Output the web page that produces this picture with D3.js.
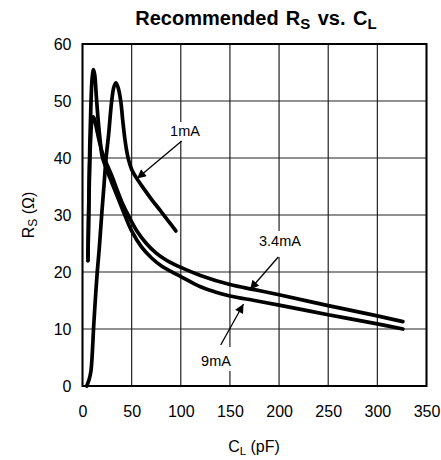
<!DOCTYPE html>
<html><head><meta charset="utf-8">
<script src="https://cdn.jsdelivr.net/npm/d3@7"></script>
<style>body{margin:0;background:#fff}svg{display:block}text{font-family:Arial,"Liberation Sans",sans-serif}</style>
</head><body>
<svg id="c" width="441" height="460"></svg>
<script>
const xTicks = [0, 50, 100, 150, 200, 250, 300, 350];
const yTicks = [0, 10, 20, 30, 40, 50, 60];

const curve1mA = [[4.3,0],[6.5,1],[8.5,2.5],[9.7,5],[10.5,7.5],[11.2,10],[13,15],[15,20],[17,24],[19.5,30],[22,35.5],[24,40],[26.5,44],[29.7,50],[32,52.5],[34.1,53.2],[36.3,52.3],[38.9,50],[41,46.5],[43,43.5],[45,41.2],[47,39.6],[50,38],[54.5,36.6],[60,35.2],[70,32.8],[80,30.6],[88,28.8],[95,27.2]];
const curve3_4mA = [[5.5,22],[6.3,30],[7.2,38],[8.3,43.5],[9.6,46.5],[11,47.2],[12.5,46.6],[14.5,45],[17,43],[20,41],[23,39.6],[30,36.8],[35,34.5],[40,32.3],[47,29.8],[55,27.3],[65,25],[75,23.3],[85,22.1],[100,20.8],[120,19.4],[150,17.8],[175,16.9],[200,16.0],[250,14.1],[300,12.3],[326,11.3]];
const curve9mA = [[5.5,22],[6.4,32],[7.4,42],[8.5,49],[9.8,54],[11.2,55.5],[12.5,54.5],[14,51],[16,46.5],[18,43],[20,40.3],[25,37.8],[30,35.6],[36,33],[43,30],[50,27.2],[60,24.4],[70,22.5],[80,21.1],[90,20.1],[100,19.2],[120,17.4],[135,16.5],[150,15.8],[175,15.0],[200,14.2],[250,12.5],[300,10.9],[326,10.0]];

const seriesNames = ["1mA", "3.4mA", "9mA"];
const seriesData = [curve1mA, curve3_4mA, curve9mA];

const svg = d3.select("#c");
const x = d3.scaleLinear().domain([0, 350]).range([82.5, 426.5]);
const y = d3.scaleLinear().domain([0, 60]).range([386, 44]);

svg.append("defs").append("marker")
  .attr("id","ah").attr("viewBox","0 0 10 10").attr("refX",10).attr("refY",5)
  .attr("markerUnits","userSpaceOnUse").attr("markerWidth",11).attr("markerHeight",9)
  .attr("orient","auto")
  .append("path").attr("d","M0,0 L10,5 L0,10 Z").attr("fill","#000");

// grid
const g = svg.append("g");
g.selectAll(".vg").data(xTicks).enter().append("line")
  .attr("x1", d => x(d)).attr("x2", d => x(d)).attr("y1", y(0)).attr("y2", y(60))
  .attr("stroke", "#222").attr("stroke-width", 1.2);
g.selectAll(".hg").data(yTicks).enter().append("line")
  .attr("x1", x(0)).attr("x2", x(350)).attr("y1", d => y(d)).attr("y2", d => y(d))
  .attr("stroke", "#222").attr("stroke-width", 1.2);

// axes labels via d3 axes (no tick lines)
const xAxis = svg.append("g").attr("transform", `translate(0,${y(0)})`)
  .call(d3.axisBottom(x).tickValues(xTicks).tickSize(0).tickPadding(20));
const yAxis = svg.append("g").attr("transform", `translate(${x(0)},0)`)
  .call(d3.axisLeft(y).tickValues(yTicks).tickSize(0).tickPadding(11));
[xAxis, yAxis].forEach(a => {
  a.select(".domain").remove();
  a.selectAll("text").attr("font-size", 16).attr("font-family", "Arial, 'Liberation Sans', sans-serif").attr("fill", "#000");
});

// frame
svg.append("rect").attr("x", x(0)).attr("y", y(60)).attr("width", x(350) - x(0)).attr("height", y(0) - y(60))
  .attr("fill", "none").attr("stroke", "#000").attr("stroke-width", 2);

// curves
const line = d3.line().x(d => x(d[0])).y(d => y(d[1])).curve(d3.curveCatmullRom.alpha(0.5));
svg.selectAll(".curve").data(seriesData).enter().append("path")
  .attr("d", line).attr("fill", "none").attr("stroke", "#000").attr("stroke-width", 3.7)
  .attr("stroke-linecap", "round").attr("stroke-linejoin", "round");

// annotations
const ann = [
  {t: seriesNames[0], tx: 185, ty: 136, box: [165, 122, 40, 19], from: [181.7, 141], to: [137, 178.5]},
  {t: seriesNames[1], tx: 280, ty: 246, box: [254, 231, 53, 26], from: [278.3, 257], to: [250, 289.5]},
  {t: seriesNames[2], tx: 216, ty: 366, box: [197, 347, 40, 24], from: [220.7, 345], to: [243.5, 304]}
];
ann.forEach(a => {
  svg.append("rect").attr("x", a.box[0]).attr("y", a.box[1]).attr("width", a.box[2]).attr("height", a.box[3]).attr("fill", "#fff");
  svg.append("text").attr("x", a.tx).attr("y", a.ty).attr("text-anchor", "middle")
    .attr("font-family", "'DejaVu Sans', sans-serif").attr("font-size", 14.5).attr("fill", "#000").text(a.t);
  svg.append("line").attr("x1", a.from[0]).attr("y1", a.from[1]).attr("x2", a.to[0]).attr("y2", a.to[1])
    .attr("stroke", "#000").attr("stroke-width", 1.3).attr("marker-end", "url(#ah)");
});

// title
const title = svg.append("text").attr("x", 256).attr("y", 25).attr("text-anchor", "middle")
  .attr("font-size", 20).attr("font-weight", "bold").attr("fill", "#000");
title.append("tspan").text("Recommended");
title.append("tspan").attr("dx", 1.5).text(" R");
title.append("tspan").attr("font-size", 15).attr("dy", 4).text("S");
title.append("tspan").attr("dy", -4).attr("dx", 2).text(" vs.");
title.append("tspan").attr("dx", 2).text(" C");
title.append("tspan").attr("font-size", 15).attr("dy", 4).text("L");

// x title
const xt = svg.append("text").attr("x", 254).attr("y", 452).attr("text-anchor", "middle")
  .attr("font-size", 16).attr("fill", "#000");
xt.append("tspan").text("C");
xt.append("tspan").attr("font-size", 11.5).attr("dy", 3).text("L");
xt.append("tspan").attr("dy", -3).text(" (pF)");

// y title
const yt = svg.append("text").attr("transform", "translate(34,215) rotate(-90)").attr("text-anchor", "middle")
  .attr("font-size", 16).attr("fill", "#000");
yt.append("tspan").text("R");
yt.append("tspan").attr("font-size", 12).attr("dy", 3).text("S");
yt.append("tspan").attr("dy", -3).text(" (Ω)");
</script>
</body></html>
